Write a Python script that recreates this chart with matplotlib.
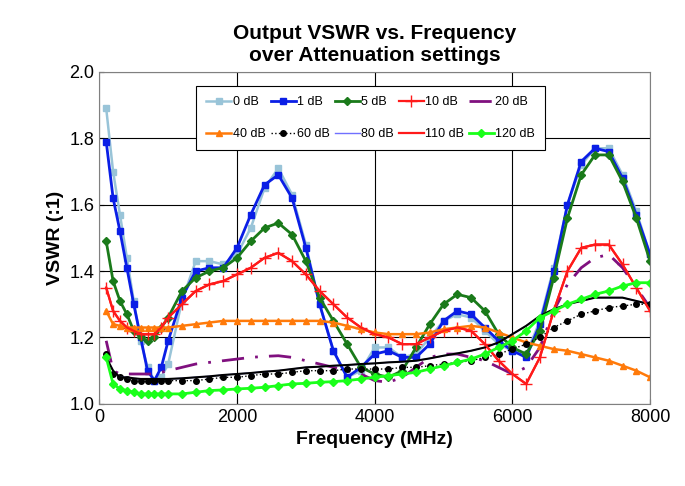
import numpy as np
import matplotlib
matplotlib.use('Agg')
import matplotlib.pyplot as plt

plt.rcParams['font.family'] = ['Liberation Sans', 'DejaVu Sans']

# frequency grid (MHz)
freq = [100, 200, 300, 400, 500, 600, 700, 800, 900, 1000,
        1200, 1400, 1600, 1800, 2000, 2200, 2400, 2600, 2800, 3000,
        3200, 3400, 3600, 3800, 4000, 4200, 4400, 4600, 4800, 5000,
        5200, 5400, 5600, 5800, 6000, 6200, 6400, 6600, 6800, 7000,
        7200, 7400, 7600, 7800, 8000]

db0 = [1.89, 1.70, 1.57, 1.44, 1.31, 1.19, 1.11, 1.07, 1.08, 1.12,
       1.31, 1.43, 1.43, 1.42, 1.45, 1.53, 1.65, 1.71, 1.63, 1.48,
       1.30, 1.16, 1.08, 1.10, 1.17, 1.17, 1.14, 1.15, 1.20, 1.25,
       1.27, 1.26, 1.22, 1.18, 1.16, 1.15, 1.25, 1.41, 1.60, 1.72,
       1.77, 1.77, 1.69, 1.58, 1.45]
db1 = [1.79, 1.62, 1.52, 1.41, 1.30, 1.20, 1.10, 1.07, 1.11, 1.19,
       1.32, 1.40, 1.41, 1.41, 1.47, 1.57, 1.66, 1.69, 1.62, 1.47,
       1.30, 1.16, 1.08, 1.11, 1.15, 1.16, 1.14, 1.14, 1.18, 1.25,
       1.28, 1.27, 1.23, 1.19, 1.16, 1.14, 1.24, 1.40, 1.60, 1.73,
       1.77, 1.76, 1.68, 1.57, 1.45]
db5 = [1.49, 1.37, 1.31, 1.27, 1.22, 1.20, 1.19, 1.20, 1.23, 1.26,
       1.34, 1.38, 1.40, 1.41, 1.44, 1.49, 1.53, 1.545, 1.51, 1.43,
       1.32, 1.25, 1.18, 1.11, 1.09, 1.08, 1.10, 1.17, 1.24, 1.30,
       1.33, 1.32, 1.28, 1.21, 1.17, 1.15, 1.22, 1.38, 1.56, 1.69,
       1.75, 1.75, 1.67, 1.56, 1.43]
db10 = [1.35, 1.28, 1.25, 1.23, 1.22, 1.21, 1.21, 1.21, 1.23, 1.26,
        1.30, 1.34, 1.36, 1.37, 1.39, 1.41, 1.44, 1.455, 1.43, 1.39,
        1.34, 1.30, 1.26, 1.23, 1.21, 1.20, 1.18, 1.18, 1.20, 1.22,
        1.23, 1.22, 1.18, 1.13, 1.09, 1.06, 1.14, 1.28, 1.40, 1.47,
        1.48, 1.48, 1.42, 1.35, 1.28]
db20 = [1.19, 1.10, 1.09, 1.09, 1.09, 1.09, 1.09, 1.09, 1.095, 1.10,
        1.11, 1.12, 1.125, 1.13, 1.135, 1.14, 1.143, 1.145, 1.14, 1.13,
        1.12, 1.11, 1.10, 1.09, 1.07, 1.065, 1.08, 1.11, 1.14, 1.15,
        1.15, 1.14, 1.13, 1.11, 1.09, 1.11, 1.17, 1.28, 1.36, 1.41,
        1.44, 1.45, 1.41, 1.35, 1.29]
db40 = [1.28, 1.24, 1.235, 1.23, 1.23, 1.23, 1.23, 1.23, 1.23, 1.23,
        1.235, 1.24, 1.245, 1.25, 1.25, 1.25, 1.25, 1.25, 1.25, 1.25,
        1.25, 1.245, 1.235, 1.225, 1.215, 1.21, 1.21, 1.21, 1.215, 1.225,
        1.23, 1.235, 1.23, 1.215, 1.20, 1.185, 1.175, 1.165, 1.16, 1.15,
        1.14, 1.13, 1.115, 1.10, 1.08]
db60 = [1.15, 1.09, 1.08, 1.075, 1.07, 1.07, 1.07, 1.07, 1.07, 1.07,
        1.07, 1.07, 1.075, 1.08, 1.08, 1.085, 1.09, 1.09, 1.095, 1.10,
        1.10, 1.10, 1.105, 1.105, 1.105, 1.105, 1.11, 1.11, 1.115, 1.12,
        1.125, 1.13, 1.14, 1.15, 1.165, 1.18, 1.20, 1.23, 1.25, 1.27,
        1.28, 1.29, 1.295, 1.30, 1.30]
db80 = [1.14, 1.10, 1.08, 1.08, 1.077, 1.075, 1.075, 1.075, 1.075, 1.075,
        1.077, 1.08, 1.083, 1.087, 1.09, 1.093, 1.097, 1.10, 1.105, 1.11,
        1.112, 1.115, 1.117, 1.12, 1.122, 1.125, 1.127, 1.13, 1.137, 1.145,
        1.152, 1.16, 1.17, 1.185, 1.21, 1.235, 1.265, 1.285, 1.30, 1.31,
        1.32, 1.32, 1.32, 1.31, 1.30]
db110 = db10
db120 = [1.14, 1.06, 1.045, 1.04, 1.035, 1.03, 1.03, 1.03, 1.03, 1.03,
         1.03, 1.035, 1.04, 1.042, 1.045, 1.047, 1.05, 1.055, 1.06, 1.062,
         1.065, 1.067, 1.07, 1.075, 1.08, 1.085, 1.09, 1.095, 1.105, 1.115,
         1.125, 1.135, 1.15, 1.17, 1.19, 1.22, 1.26, 1.28, 1.30, 1.315,
         1.33, 1.34, 1.355, 1.365, 1.365]

fig, ax = plt.subplots(figsize=(6.85, 4.86), dpi=100)
fig.subplots_adjust(left=0.145, right=0.949, bottom=0.169, top=0.852)

h = {}
h['0 dB'], = ax.plot(freq, db0, color='#99c4d8', marker='s', ms=5, lw=1.8)
h['1 dB'], = ax.plot(freq, db1, color='#0a1ee6', marker='s', ms=5, lw=2)
h['5 dB'], = ax.plot(freq, db5, color='#1a7a1a', marker='D', ms=4, lw=2)
h['10 dB'], = ax.plot(freq, db10, color='#ff1a1a', marker='+', ms=9, lw=1.6)
h['20 dB'], = ax.plot(freq, db20, color='#80107f', ls=(0, (8, 4, 1, 4)), lw=2)
h['40 dB'], = ax.plot(freq, db40, color='#ff7a0a', marker='^', ms=5, lw=1.8)
h['60 dB'], = ax.plot(freq, db60, color='black', marker='o', ms=4, ls=':', lw=1)
h['80 dB'], = ax.plot(freq, db80, color='#7070ff', lw=1)
ax.plot(freq, db80, color='black', lw=1.5)
h['110 dB'], = ax.plot(freq, db110, color='#ff1a1a', lw=1.6)
h['120 dB'], = ax.plot(freq, db120, color='#1aff1a', marker='D', ms=4, lw=2)

ax.set_xlim(0, 8000)
ax.set_ylim(1.0, 2.0)
ax.set_xticks([0, 2000, 4000, 6000, 8000])
ax.set_yticks(np.arange(1.0, 2.01, 0.2))
ax.yaxis.set_major_formatter(matplotlib.ticker.FormatStrFormatter('%.1f'))
ax.grid(True, color='black', lw=0.8)
ax.tick_params(labelsize=13, direction='in')
for s in ax.spines.values():
    s.set_color('#808080')

ax.set_xlabel('Frequency (MHz)', fontsize=14, fontweight='bold')
ax.set_ylabel('VSWR (:1)', fontsize=14, fontweight='bold')
ax.set_title('Output VSWR vs. Frequency\nover Attenuation settings',
             fontsize=15, fontweight='bold', pad=8)

# legend is filled column by column, so interleave rows
names = list(h.keys())
order = [names[i + 5 * r] for i in range(5) for r in range(2)]
leg = ax.legend([h[n] for n in order], order, ncol=5, loc='upper left',
                bbox_to_anchor=(0.165, 0.975),
                fontsize=9, frameon=True, fancybox=False, edgecolor='black',
                framealpha=1, handlelength=2.0, handletextpad=0.1,
                columnspacing=0.4, labelspacing=1.6, borderpad=0.8)
leg.get_frame().set_linewidth(0.8)

fig.savefig('out.png')
